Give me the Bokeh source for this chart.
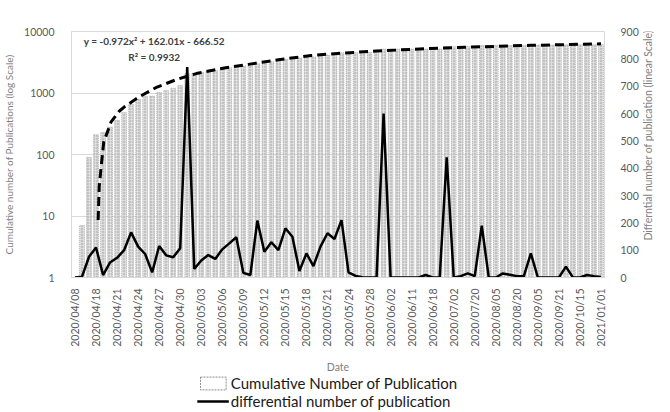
import math
from bokeh.plotting import figure
from bokeh.layouts import column, row
from bokeh.models import (Range1d, LinearAxis, LinearScale, FixedTicker, PrintfTickFormatter,
                          Legend, LegendItem, Label)
from bokeh.embed import file_html
from bokeh.resources import INLINE

# ---------------- data ----------------
tick_labels = ["2020/04/08", "2020/04/18", "2020/04/21", "2020/04/24", "2020/04/27",
               "2020/04/30", "2020/05/03", "2020/05/06", "2020/05/09", "2020/05/12",
               "2020/05/15", "2020/05/18", "2020/05/21", "2020/05/24", "2020/05/28",
               "2020/06/02", "2020/06/11", "2020/06/18", "2020/07/02", "2020/07/20",
               "2020/08/05", "2020/08/20", "2020/09/05", "2020/09/21", "2020/10/15",
               "2021/01/01"]

cumulative = [1, 7, 90, 210, 228, 281, 360, 480, 650, 790,
              880, 890, 1020, 1100, 1200, 1330, 2050, 2100, 2170, 2260,
              2330, 2450, 2580, 2740, 2760, 2770, 2990, 3090, 3230, 3340,
              3530, 3690, 3720, 3810, 3860, 3980, 4150, 4300, 4520, 4540,
              4550, 4550, 4550, 4550, 5190, 5190, 5190, 5190, 5190, 5190,
              5200, 5200, 5200, 5670, 5670, 5675, 5690, 5695, 5900, 5900,
              5900, 5915, 5925, 5930, 5935, 6030, 6030, 6030, 6030, 6030,
              6070, 6070, 6070, 6080, 6085, 6090]

differential = [0, 3, 76, 110, 9, 55, 72, 100, 165, 113,
                86, 19, 115, 81, 74, 107, 770, 31, 62, 82,
                68, 103, 125, 147, 17, 9, 208, 94, 129, 100,
                180, 149, 24, 88, 42, 113, 162, 141, 210, 19,
                6, 1, 0, 0, 600, 0, 0, 0, 0, 0,
                9, 0, 0, 440, 0, 5, 15, 5, 190, 0,
                0, 15, 10, 5, 5, 88, 0, 0, 0, 0,
                40, 0, 0, 9, 5, 2]

trend_x = [3.3, 3.45, 3.75, 4.1, 5.15, 6.3, 7.0, 9.1, 11.7, 14.5, 17.3, 21.5,
           24.7, 29.0, 33.7, 38.3, 43.0, 50.5, 55.6, 65.0, 75.0]
trend_y = [8.6, 30, 67, 160, 340, 505, 590, 860, 1250, 1660, 2070, 2580,
           2920, 3470, 4070, 4470, 4800, 5300, 5550, 5950, 6300]

left_ticks = [1, 10, 100, 1000, 10000]
left_grid = [10, 100, 1000]
right_ticks = [0, 100, 200, 300, 400, 500, 600, 700, 800, 900]

equation_text = "y = -0.972x\u00b2 + 162.01x - 666.52"
r2_text = "R\u00b2 = 0.9932"
right_title_text = "Differntial number of publication (linear Scale)"

# ------------------------------------------------------------------------
idx = list(range(len(cumulative)))
label_step = 3
label_pos = idx[::label_step]
overrides = {pos: lab for pos, lab in zip(label_pos, tick_labels)}

FONT = "Lato"
TICK_COL = "#595959"
TITLE_COL = "#7f7f7f"

BAR_STYLE = dict(fill_color="#c2c2c2", hatch_pattern="cross", hatch_color="#ebebeb",
                 hatch_scale=3, hatch_weight=0.6,
                 line_color="#a0a0a0", line_width=0.6, line_dash="1 1")

MAIN_H = 375

p = figure(width=641, height=MAIN_H,
           x_range=Range1d(-0.5, len(idx) - 0.5),
           y_range=Range1d(1, 10000), y_axis_type="log",
           output_backend="svg", toolbar_location=None,
           min_border_left=65, min_border_right=34,
           min_border_top=31, min_border_bottom=97)
p.background_fill_color = "white"
p.border_fill_color = "white"
p.outline_line_color = "#d9d9d9"
p.outline_line_width = 1

p.extra_y_ranges = {"diff": Range1d(0, 900)}
p.extra_y_scales = {"diff": LinearScale()}

bars = p.vbar(x=idx, top=cumulative, bottom=1, width=0.68, **BAR_STYLE)

p.line(x=trend_x, y=trend_y, line_color="black", line_width=3, line_dash="9 5")

diff_line = p.line(x=idx, y=differential, y_range_name="diff",
                   line_color="black", line_width=2.5)

# x axis
xa = p.xaxis[0]
xa.ticker = FixedTicker(ticks=label_pos)
xa.major_label_overrides = overrides
xa.major_label_orientation = math.pi / 2
xa.major_label_text_font = FONT
xa.major_label_text_font_size = "10.5px"
xa.major_label_text_color = TICK_COL
xa.major_label_standoff = 5
xa.axis_label = "Date"
xa.axis_label_text_font = FONT
xa.axis_label_text_font_size = "10.5px"
xa.axis_label_text_font_style = "normal"
xa.axis_label_text_color = TITLE_COL
xa.axis_label_standoff = 11
xa.major_tick_line_color = None
xa.minor_tick_line_color = None
xa.axis_line_color = "#d9d9d9"

# left y axis
ya = p.yaxis[0]
ya.ticker = FixedTicker(ticks=left_ticks)
ya.formatter = PrintfTickFormatter(format="%d")
ya.major_label_text_font = FONT
ya.major_label_text_font_size = "10.5px"
ya.major_label_text_color = TICK_COL
ya.major_label_standoff = 11
ya.axis_label = "Cumulative number of Publications (log Scale)"
ya.axis_label_text_font = FONT
ya.axis_label_text_font_size = "10px"
ya.axis_label_text_font_style = "normal"
ya.axis_label_text_color = TITLE_COL
ya.axis_label_standoff = 6
ya.major_tick_line_color = None
ya.minor_tick_line_color = None
ya.axis_line_color = None

p.ygrid.ticker = FixedTicker(ticks=left_grid)
p.ygrid.grid_line_color = "#d9d9d9"
p.xgrid.visible = False

# right y axis (ticks only; its title is drawn in the narrow strip to the right)
ra = LinearAxis(y_range_name="diff", ticker=FixedTicker(ticks=right_ticks))
ra.major_label_text_font = FONT
ra.major_label_text_font_size = "10.5px"
ra.major_label_text_color = TICK_COL
ra.major_label_standoff = 10
ra.major_tick_line_color = None
ra.minor_tick_line_color = None
ra.axis_line_color = None
p.add_layout(ra, "right")

# trendline equation
eq1 = Label(x=11.3, y=6880, text=equation_text, text_align="center",
            text_baseline="middle", text_font=FONT, text_font_size="10px",
            text_font_style="bold", text_color="#404040")
eq2 = Label(x=11.3, y=3785, text=r2_text, text_align="center",
            text_baseline="middle", text_font=FONT, text_font_size="10px",
            text_font_style="bold", text_color="#404040")
p.add_layout(eq1)
p.add_layout(eq2)

# narrow strip holding the right-hand axis title (reads bottom to top)
r = figure(width=13, height=MAIN_H, x_range=Range1d(0, 1), y_range=Range1d(0, MAIN_H),
           output_backend="svg", toolbar_location=None, min_border=0,
           x_axis_location=None, y_axis_location=None)
r.outline_line_color = None
r.xgrid.visible = False
r.ygrid.visible = False
r.border_fill_color = "white"
r.add_layout(Label(x=0.5, y=MAIN_H - 158, text=right_title_text, angle=math.pi / 2,
                   text_align="center", text_baseline="middle",
                   text_font=FONT, text_font_size="10.5px", text_color=TITLE_COL))

# legend strip below the chart (its renderers use the same data, kept outside the view)
q = figure(width=654, height=35, x_range=Range1d(-1001, -1000), y_range=Range1d(-1001, -1000),
           output_backend="svg", toolbar_location=None, min_border=0,
           x_axis_location=None, y_axis_location=None)
q.outline_line_color = None
q.xgrid.visible = False
q.ygrid.visible = False
q.background_fill_color = "white"
q.border_fill_color = "white"
q_bars = q.vbar(x=idx, top=cumulative, width=0.68, fill_color="white",
                line_color="#8c8c8c", line_width=1, line_dash="2 1")
q_line = q.line(x=idx, y=differential, line_color="black", line_width=2.5)

legend = Legend(items=[LegendItem(label="Cumulative Number of Publication", renderers=[q_bars]),
                       LegendItem(label="differential number of publication", renderers=[q_line])],
                location="bottom_center", orientation="vertical",
                padding=0, margin=0, spacing=0,
                border_line_color=None, background_fill_alpha=0,
                glyph_width=32, glyph_height=16, label_height=16, label_standoff=2,
                label_text_font=FONT, label_text_font_size="15px",
                label_text_color="#1a1a1a")
q.add_layout(legend)

layout = column(row(p, r, spacing=0), q, spacing=0)
open("out.html", "w").write(file_html(layout, INLINE))
